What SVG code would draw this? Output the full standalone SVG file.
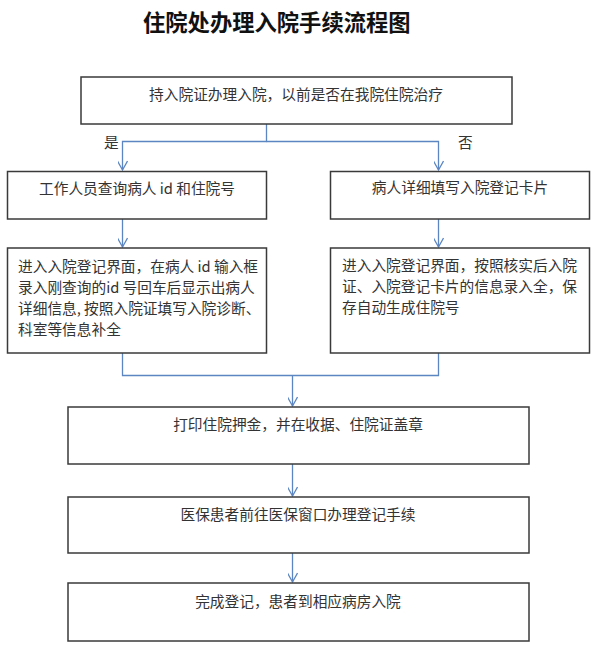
<svg xmlns="http://www.w3.org/2000/svg" width="600" height="654" viewBox="0 0 600 654">
<defs>
<style>
.box{fill:#fff;stroke:#3a3a3a;stroke-width:1.5}
.t{font-family:"Noto Sans CJK SC","Noto Sans",sans-serif;font-size:14.7px;fill:#333}
.c{text-anchor:middle}
.title{font-family:"Noto Sans CJK SC","Noto Sans",sans-serif;font-size:22.3px;font-weight:700;fill:#111}
.ln{fill:none;stroke:#5b86c2;stroke-width:1.3}
</style>
<marker id="ah" viewBox="0 0 12 10" refX="10" refY="5" markerWidth="12" markerHeight="10" markerUnits="userSpaceOnUse" orient="auto">
<path d="M1,0 L10,5 L1,10" fill="none" stroke="#5b86c2" stroke-width="1.3"/>
</marker>
</defs>
<rect width="600" height="654" fill="#fff"/>
<text class="title" x="143" y="31">住院处办理入院手续流程图</text>

<g id="connectors">
<path class="ln" d="M266.5,124 V141.5 H122.5 V170" marker-end="url(#ah)"/>
<path class="ln" d="M266.5,141.5 H438.5 V170" marker-end="url(#ah)"/>
<path class="ln" d="M122.5,219 V247" marker-end="url(#ah)"/>
<path class="ln" d="M438.5,219 V247" marker-end="url(#ah)"/>
<path class="ln" d="M122.5,353 V375.5 H438.5 V353"/>
<path class="ln" d="M292.5,375.5 V406" marker-end="url(#ah)"/>
<path class="ln" d="M292.5,464 V496" marker-end="url(#ah)"/>
<path class="ln" d="M292.5,553 V582" marker-end="url(#ah)"/>
<text class="t" x="104" y="148">是</text>
<text class="t" x="458" y="148">否</text>
</g>

<g id="n1">
<rect class="box" x="81" y="77" width="431" height="47"/>
<text class="t c" x="296" y="100">持入院证办理入院，以前是否在我院住院治疗</text>
</g>
<g id="n2">
<rect class="box" x="7.5" y="171.5" width="259" height="47.5"/>
<text class="t c" x="137" y="194">工作人员查询病人 id 和住院号</text>
</g>
<g id="n3">
<rect class="box" x="330.5" y="171.5" width="259" height="47.5"/>
<text class="t c" x="460" y="193">病人详细填写入院登记卡片</text>
</g>
<g id="n4">
<rect class="box" x="7.5" y="248" width="259" height="105"/>
<text class="t" x="18" y="272">进入入院登记界面，在病人 id 输入框</text>
<text class="t" x="18" y="293">录入刚查询的id 号回车后显示出病人</text>
<text class="t" x="18" y="314">详细信息, 按照入院证填写入院诊断、</text>
<text class="t" x="18" y="335">科室等信息补全</text>
</g>
<g id="n5">
<rect class="box" x="330.5" y="248" width="259" height="105"/>
<text class="t" x="342" y="271">进入入院登记界面，按照核实后入院</text>
<text class="t" x="342" y="292">证、入院登记卡片的信息录入全，保</text>
<text class="t" x="342" y="313">存自动生成住院号</text>
</g>
<g id="n6">
<rect class="box" x="68" y="407" width="461" height="57"/>
<text class="t c" x="298" y="430">打印住院押金，并在收据、住院证盖章</text>
</g>
<g id="n7">
<rect class="box" x="68" y="497" width="461" height="56"/>
<text class="t c" x="298" y="520">医保患者前往医保窗口办理登记手续</text>
</g>
<g id="n8">
<rect class="box" x="68" y="583" width="461" height="58"/>
<text class="t c" x="298" y="607">完成登记，患者到相应病房入院</text>
</g>
</svg>
